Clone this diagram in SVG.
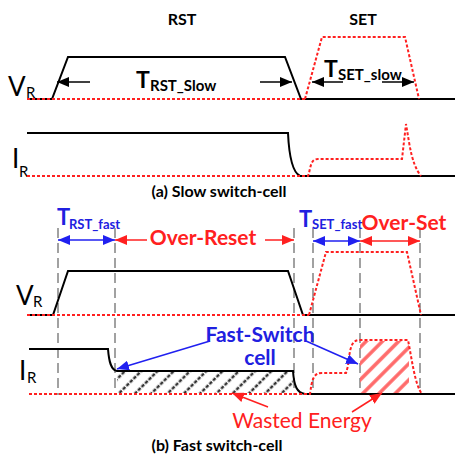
<svg xmlns="http://www.w3.org/2000/svg" width="455" height="457" viewBox="0 0 455 457">
<style>
text{font-family:Lato,"Liberation Sans",sans-serif}
.b{font-weight:bold}
.sig{fill:none;stroke:#000;stroke-width:2;stroke-linejoin:miter}
.red{fill:none;stroke:#ff2020;stroke-width:2;stroke-dasharray:3 2}
.grid{fill:none;stroke:#8a8a8a;stroke-width:1.6;stroke-dasharray:10 5}
.ak{stroke:#000;stroke-width:1.5;fill:none}
.ab{stroke:#2020f0;stroke-width:1.5;fill:none}
.ar{stroke:#ff2020;stroke-width:1.5;fill:none}
.kt{fill:#000}
.bt{fill:#2020e0}
.rt{fill:#ff2020}
</style>
<defs>
<marker id="mk" viewBox="0 0 12 10" refX="12" refY="5" markerWidth="12" markerHeight="10" markerUnits="userSpaceOnUse" orient="auto-start-reverse"><path d="M0,0 L12,5 L0,10 Z" fill="#000"/></marker>
<marker id="mb" viewBox="0 0 12 10" refX="12" refY="5" markerWidth="12" markerHeight="10" markerUnits="userSpaceOnUse" orient="auto-start-reverse"><path d="M0,0 L12,5 L0,10 Z" fill="#2020f0"/></marker>
<marker id="mr" viewBox="0 0 12 10" refX="12" refY="5" markerWidth="12" markerHeight="10" markerUnits="userSpaceOnUse" orient="auto-start-reverse"><path d="M0,0 L12,5 L0,10 Z" fill="#ff2020"/></marker>
<pattern id="hk" width="11.5" height="5" patternUnits="userSpaceOnUse" patternTransform="rotate(45)">
<rect x="4.5" y="0" width="2.5" height="3.5" fill="#333"/>
</pattern>
<pattern id="hr" width="11.5" height="6" patternUnits="userSpaceOnUse" patternTransform="rotate(45)">
<rect x="4" y="0" width="3.5" height="6" fill="#ff6a6a"/>
</pattern>
</defs>
<rect width="455" height="457" fill="#fff"/>

<g id="titles">
<text x="182" y="25" class="b kt" font-size="16" text-anchor="middle">RST</text>
<text x="363" y="25" class="b kt" font-size="16" text-anchor="middle">SET</text>
</g>

<g id="slow-vr">
<text x="8" y="96" font-size="26" class="kt">V</text>
<text x="26" y="98" font-size="15" class="kt">R</text>
<path class="sig" d="M27,99 L52,99 L68,57 L285,57 L301,99 L455,99"/>
<path class="red" d="M27,99 L305,99"/>
<path class="red" d="M305,99 L322,37 L405,37 L419,99"/>
<text x="136" y="88" font-size="23" class="b kt">T</text>
<text x="150" y="91" font-size="15" class="b kt">RST_Slow</text>
<text x="324" y="77" font-size="23" class="b kt">T</text>
<text x="338" y="80" font-size="15" class="b kt">SET_slow</text>
</g>

<g id="slow-ir">
<text x="12" y="168" font-size="26" class="kt">I</text>
<text x="19" y="177" font-size="15" class="kt">R</text>
<path class="sig" d="M27,133 L288,133 C289,155 292,172 300,176 L455,176"/>
<path class="red" d="M27,176 L308,176 C311,168 310,159 318,159 L402,159 L406,124 L409,142 C412,160 416,170 421,176"/>
<text x="219" y="197" font-size="16" class="b kt" text-anchor="middle">(a) Slow switch-cell</text>
</g>

<g id="grid">
<path class="grid" d="M58,228 V395 M115,228 V395 M294,228 V395 M313,228 V395 M360,228 V395 M420,228 V395"/>
</g>

<g id="fast-vr">
<text x="16" y="305" font-size="26" class="kt">V</text>
<text x="33" y="307" font-size="15" class="kt">R</text>
<path class="sig" d="M27,315 L53,315 L68,271 L288,271 L303,315 L455,315"/>
<path class="red" d="M27,315 L309,315"/>
<path class="red" d="M309,315 L326,252 L407,252 L421,315"/>
</g>

<g id="fast-ir">
<text x="19" y="380" font-size="26" class="kt">I</text>
<text x="27" y="383" font-size="15" class="kt">R</text>
<rect x="117" y="372" width="176" height="21" fill="url(#hk)"/>
<rect x="360" y="341" width="49" height="52" fill="url(#hr)"/>
<path class="sig" d="M29,349 L108,349 C109,362 111,370 117,371 L293,371 C294,386 297,393 305,394 L455,394"/>
<path class="red" d="M29,394 L310,394 C312,380 313,373 322,373 L346,373 L348,366 C350,346 352,340 360,340 L408,340 C412,360 415,385 422,394"/>
</g>

<g id="labels">
<text x="57" y="225" font-size="22" class="b bt">T</text>
<text x="69" y="229" font-size="13" class="b bt">RST_fast</text>
<text x="203" y="245" font-size="21" class="b rt" text-anchor="middle">Over-Reset</text>
<text x="299" y="227" font-size="22" class="b bt">T</text>
<text x="312" y="229" font-size="13" class="b bt">SET_fast</text>
<text x="404" y="230" font-size="21" class="b rt" text-anchor="middle">Over-Set</text>
<text x="260" y="342" font-size="21" class="b bt" text-anchor="middle">Fast-Switch</text>
<text x="260" y="365" font-size="21" class="b bt" text-anchor="middle">cell</text>
<text x="302" y="428" font-size="21" class="rt" text-anchor="middle">Wasted Energy</text>
<text x="217" y="451" font-size="16" class="b kt" text-anchor="middle">(b) Fast switch-cell</text>
</g>

<g id="connectors">
<path class="ak" d="M90,82 L57,82" marker-end="url(#mk)"/>
<path class="ak" d="M260,82 L292,82" marker-end="url(#mk)"/>
<path class="ak" d="M343,82 L312,82" marker-end="url(#mk)"/>
<path class="ak" d="M382,82 L414,82" marker-end="url(#mk)"/>
<path class="ab" d="M58,240 L115,240" marker-start="url(#mb)" marker-end="url(#mb)"/>
<path class="ar" d="M147,240 L115,240" marker-end="url(#mr)"/>
<path class="ar" d="M265,240 L294,240" marker-end="url(#mr)"/>
<path class="ab" d="M313,241 L360,241" marker-start="url(#mb)" marker-end="url(#mb)"/>
<path class="ar" d="M360,241 L420,241" marker-start="url(#mr)" marker-end="url(#mr)"/>
<path class="ab" d="M210,341 L117,369" marker-end="url(#mb)"/>
<path class="ab" d="M306,341 L358,364" marker-end="url(#mb)"/>
<path class="ar" d="M268,407 L232,393" marker-end="url(#mr)"/>
<path class="ar" d="M352,412 L382,393" marker-end="url(#mr)"/>
</g>
</svg>
